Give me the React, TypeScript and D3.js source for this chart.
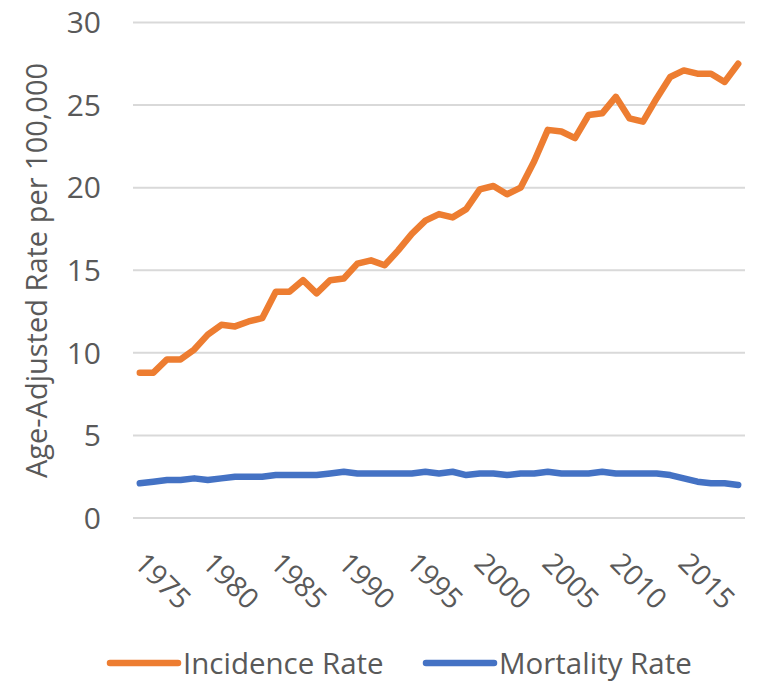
import { useEffect, useRef } from 'react';
import * as d3 from 'd3';

const years = d3.range(1975, 2020).map(String);
const incidence = [
  8.8, 8.8, 9.6, 9.6, 10.2, 11.1, 11.7, 11.6, 11.9, 12.1,
  13.7, 13.7, 14.4, 13.6, 14.4, 14.5, 15.4, 15.6, 15.3, 16.2,
  17.2, 18.0, 18.4, 18.2, 18.7, 19.9, 20.1, 19.6, 20.0, 21.6,
  23.5, 23.4, 23.0, 24.4, 24.5, 25.5, 24.2, 24.0, 25.4, 26.7,
  27.1, 26.9, 26.9, 26.4, 27.5,
];
const mortality = [
  2.1, 2.2, 2.3, 2.3, 2.4, 2.3, 2.4, 2.5, 2.5, 2.5,
  2.6, 2.6, 2.6, 2.6, 2.7, 2.8, 2.7, 2.7, 2.7, 2.7,
  2.7, 2.8, 2.7, 2.8, 2.6, 2.7, 2.7, 2.6, 2.7, 2.7,
  2.8, 2.7, 2.7, 2.7, 2.8, 2.7, 2.7, 2.7, 2.7, 2.6,
  2.4, 2.2, 2.1, 2.1, 2.0,
];
const yTicks = [0, 5, 10, 15, 20, 25, 30];
const labelYears = ['1975', '1980', '1985', '1990', '1995', '2000', '2005', '2010', '2015'];
const seriesNames = ['Incidence Rate', 'Mortality Rate'];
const seriesColors = ['#ED7D31', '#4472C4'];

const FONT = '"Open Sans", sans-serif';
const TEXT = '#595959';

export default function App() {
  const svgRef = useRef<SVGSVGElement>(null);
  const width = 758;
  const height = 684;

  useEffect(() => {
    if (!svgRef.current) return;
    const svg = d3.select(svgRef.current);
    svg.selectAll('*').remove();

    const left = 133, right = 745, top = 22.5, bottom = 518;

    const x = d3.scaleBand().domain(years).range([left, right]);
    const cx = (yr: string) => (x(yr) || 0) + x.bandwidth() / 2;
    const y = d3.scaleLinear().domain([0, 30]).range([bottom, top]);

    // gridlines
    svg.append('g')
      .selectAll('line')
      .data(yTicks)
      .enter().append('line')
      .attr('x1', left)
      .attr('x2', right)
      .attr('y1', d => y(d))
      .attr('y2', d => y(d))
      .attr('stroke', '#D9D9D9')
      .attr('stroke-width', 2);

    // y tick labels
    svg.append('g')
      .selectAll('text')
      .data(yTicks)
      .enter().append('text')
      .attr('x', 101)
      .attr('y', d => y(d))
      .attr('dy', '0.36em')
      .attr('text-anchor', 'end')
      .attr('font-family', FONT)
      .attr('font-size', 30)
      .attr('fill', TEXT)
      .text(d => d);

    // x tick labels, rotated
    svg.append('g')
      .selectAll('text')
      .data(labelYears)
      .enter().append('text')
      .attr('transform', d => `translate(${cx(d) - 7},565) rotate(45)`)
      .attr('text-anchor', 'start')
      .attr('font-family', FONT)
      .attr('font-size', 28.5)
      .attr('fill', TEXT)
      .text(d => d);

    // axis title
    svg.append('text')
      .attr('transform', `translate(47,270.5) rotate(-90)`)
      .attr('text-anchor', 'middle')
      .attr('font-family', FONT)
      .attr('font-size', 29)
      .attr('fill', TEXT)
      .text('Age-Adjusted Rate per 100,000');

    const line = d3.line<number>()
      .x((_, i) => cx(years[i]))
      .y(d => y(d));

    [incidence, mortality].forEach((data, k) => {
      svg.append('path')
        .datum(data)
        .attr('d', line)
        .attr('fill', 'none')
        .attr('stroke', seriesColors[k])
        .attr('stroke-width', 6.5)
        .attr('stroke-linejoin', 'round')
        .attr('stroke-linecap', 'round');
    });

    // legend
    const legendX = [110, 426];
    const legend = svg.append('g');
    seriesNames.forEach((name, k) => {
      legend.append('line')
        .attr('x1', legendX[k])
        .attr('x2', legendX[k] + 68)
        .attr('y1', 663)
        .attr('y2', 663)
        .attr('stroke', seriesColors[k])
        .attr('stroke-width', 6.5)
        .attr('stroke-linecap', 'round');
      legend.append('text')
        .attr('x', legendX[k] + 73)
        .attr('y', 663)
        .attr('dy', '0.36em')
        .attr('font-family', FONT)
        .attr('font-size', 29.5)
        .attr('fill', TEXT)
        .text(name);
    });
  }, []);

  return (
    <svg
      ref={svgRef}
      width={width}
      height={height}
      style={{ position: 'absolute', left: 0, top: 0, background: '#fff' }}
    />
  );
}
